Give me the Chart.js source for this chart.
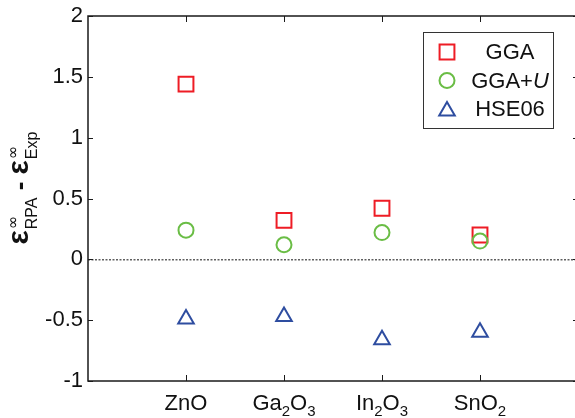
<!DOCTYPE html>
<html>
<head>
<meta charset="utf-8">
<script src="https://cdn.jsdelivr.net/npm/chart.js@4/dist/chart.umd.min.js"></script>
<style>
  html, body { margin: 0; padding: 0; background: #fff; overflow: hidden; width: 575px; height: 418px; }
  #wrap { position: absolute; left: 0; top: 0; width: 580px; height: 418px; }
  canvas { display: block; width: 580px; height: 418px; }
</style>
</head>
<body>
<div id="wrap"><canvas id="c" width="580" height="418" style="width:580px;height:418px"></canvas></div>
<script>
// ---- data ----
const categories = ['ZnO', 'Ga2O3', 'In2O3', 'SnO2'];
const seriesNames = ['GGA', 'GGA+U', 'HSE06'];
const ggaValues = [1.44, 0.32, 0.42, 0.20];
const ggaUValues = [0.24, 0.12, 0.22, 0.15];
const hseValues = [-0.49, -0.47, -0.66, -0.60];
const yTickValues = [-1, -0.5, 0, 0.5, 1, 1.5, 2];

const FONT = '"Liberation Sans", Arial, Helvetica, sans-serif';
const colors = ['#ee1c25', '#6abd45', '#2e4da0'];
const styles = ['rect', 'circle', 'triangle'];
const radii = [10.5, 7.5, 9];

function toPoints(vals) { return vals.map((v, i) => ({ x: i + 1, y: v })); }
const allValues = [ggaValues, ggaUValues, hseValues];

const datasets = seriesNames.map((name, k) => ({
  label: name,
  data: toPoints(allValues[k]),
  pointStyle: styles[k],
  pointRadius: radii[k],
  pointHoverRadius: radii[k],
  borderColor: colors[k],
  backgroundColor: 'rgba(0,0,0,0)',
  pointBorderWidth: 2,
  borderWidth: 2,
  showLine: false,
  order: 2 - k
}));

function drawSubText(ctx, text, x, y, size, align) {
  const parts = [];
  for (const ch of text) {
    const sub = /[0-9]/.test(ch);
    if (parts.length && parts[parts.length - 1].sub === sub) parts[parts.length - 1].t += ch;
    else parts.push({ t: ch, sub });
  }
  const subSize = Math.round(size * 0.7);
  let w = 0;
  parts.forEach(p => {
    ctx.font = (p.sub ? subSize : size) + 'px ' + FONT;
    p.w = ctx.measureText(p.t).width;
    w += p.w;
  });
  let cx = align === 'center' ? x - w / 2 : x;
  ctx.textAlign = 'left';
  ctx.textBaseline = 'alphabetic';
  parts.forEach(p => {
    ctx.font = (p.sub ? subSize : size) + 'px ' + FONT;
    ctx.fillText(p.t, cx, p.sub ? y + 6 : y);
    cx += p.w;
  });
}

function drawMarker(ctx, style, r, x, y, color) {
  ctx.save();
  ctx.strokeStyle = color;
  ctx.lineWidth = 2;
  ctx.beginPath();
  if (style === 'rect') {
    const s = Math.SQRT1_2 * r;
    ctx.rect(x - s, y - s, 2 * s, 2 * s);
  } else if (style === 'circle') {
    ctx.arc(x, y, r, 0, Math.PI * 2);
  } else {
    let rad = 0;
    ctx.moveTo(x + Math.sin(rad) * r, y - Math.cos(rad) * r);
    rad += 2 * Math.PI / 3;
    ctx.lineTo(x + Math.sin(rad) * r, y - Math.cos(rad) * r);
    rad += 2 * Math.PI / 3;
    ctx.lineTo(x + Math.sin(rad) * r, y - Math.cos(rad) * r);
    ctx.closePath();
  }
  ctx.stroke();
  ctx.restore();
}

const framePlugin = {
  id: 'frame',
  beforeDatasetsDraw(chart) {
    const { ctx, chartArea: a, scales } = chart;
    const xs = scales.x, ys = scales.y;
    ctx.save();
    const y0 = ys.getPixelForValue(0);
    ctx.strokeStyle = '#111';
    ctx.lineWidth = 1;
    ctx.setLineDash([2, 1.5]);
    ctx.beginPath();
    ctx.moveTo(a.left, y0 + 0.5);
    ctx.lineTo(a.right, y0 + 0.5);
    ctx.stroke();
    ctx.setLineDash([]);
    ctx.strokeStyle = '#1a1a1a';
    ctx.lineWidth = 1.5;
    ctx.strokeRect(a.left, a.top, a.right - a.left, a.bottom - a.top);
    ctx.lineWidth = 1;
    ctx.beginPath();
    yTickValues.forEach(v => {
      const py = Math.round(ys.getPixelForValue(v)) + 0.5;
      ctx.moveTo(a.left, py); ctx.lineTo(a.left + 5, py);
      ctx.moveTo(a.right, py); ctx.lineTo(a.right - 5, py);
    });
    categories.forEach((c, i) => {
      const px = Math.round(xs.getPixelForValue(i + 1)) + 0.5;
      ctx.moveTo(px, a.top); ctx.lineTo(px, a.top + 6);
      ctx.moveTo(px, a.bottom); ctx.lineTo(px, a.bottom - 6);
    });
    ctx.stroke();
    ctx.restore();
  },
  afterDraw(chart) {
    const { ctx, chartArea: a, scales } = chart;
    const xs = scales.x;
    ctx.save();
    ctx.fillStyle = '#111';
    categories.forEach((c, i) => {
      drawSubText(ctx, c, xs.getPixelForValue(i + 1), a.bottom + 29, 22, 'center');
    });
    // legend
    const lx = 423, ly = 32, lw = 130, lh = 96;
    ctx.strokeStyle = '#333';
    ctx.lineWidth = 1;
    ctx.strokeRect(lx + 0.5, ly + 0.5, lw, lh);
    seriesNames.forEach((n, k) => {
      const ry = ly + 20 + k * 28.5;
      drawMarker(ctx, styles[k], radii[k], 447, styles[k] === 'triangle' ? ry + 2 : ry, colors[k]);
      const plus = n.indexOf('+');
      const segs = plus >= 0 ? [{ t: n.slice(0, plus + 1), it: false }, { t: n.slice(plus + 1), it: true }] : [{ t: n, it: false }];
      let w = 0;
      segs.forEach(s => { ctx.font = (s.it ? 'italic ' : '') + '22px ' + FONT; s.w = ctx.measureText(s.t).width; w += s.w; });
      let tx = 510 - w / 2;
      ctx.textAlign = 'left';
      ctx.textBaseline = 'middle';
      ctx.fillStyle = '#111';
      segs.forEach(s => { ctx.font = (s.it ? 'italic ' : '') + '22px ' + FONT; ctx.fillText(s.t, tx, ry + 1); tx += s.w; });
    });
    // y-axis title
    ctx.translate(28, 188);
    ctx.rotate(-Math.PI / 2);
    const bigF = 'bold 30px ' + FONT;
    const dashF = 'bold 26px ' + FONT;
    const smallF = '16px ' + FONT;
    const supF = '16px "DejaVu Sans", ' + FONT;
    const pieces = [
      { type: 'main', t: '\u03b5', f: bigF },
      { type: 'ss', sup: '\u221e', sub: 'RPA' },
      { type: 'main', t: ' - ', f: dashF },
      { type: 'main', t: '\u03b5', f: bigF },
      { type: 'ss', sup: '\u221e', sub: 'Exp' }
    ];
    let total = 0;
    pieces.forEach(p => {
      if (p.type === 'main') { ctx.font = p.f; p.w = ctx.measureText(p.t).width; }
      else {
        ctx.font = supF; const w1 = ctx.measureText(p.sup).width;
        ctx.font = smallF; const w2 = ctx.measureText(p.sub).width;
        p.w = Math.max(w1, w2) + 1;
      }
      total += p.w;
    });
    let x = -total / 2;
    ctx.textAlign = 'left';
    ctx.textBaseline = 'alphabetic';
    pieces.forEach(p => {
      if (p.type === 'main') { ctx.font = p.f; ctx.fillText(p.t, x, 0); }
      else {
        ctx.font = supF; ctx.fillText(p.sup, x + 1, -10);
        ctx.font = smallF; ctx.fillText(p.sub, x + 1, 9);
      }
      x += p.w;
    });
    ctx.restore();
  }
};

new Chart(document.getElementById('c'), {
  type: 'scatter',
  data: { datasets },
  options: {
    responsive: false,
    animation: false,
    events: [],
    layout: { autoPadding: false, padding: { top: 16, right: 2, left: 0, bottom: 0 } },
    plugins: { legend: { display: false }, tooltip: { enabled: false } },
    scales: {
      x: {
        type: 'linear', min: 0, max: categories.length + 1,
        ticks: { display: false },
        grid: { display: false, drawTicks: false },
        border: { display: false },
        afterFit(s) { s.height = 37; s.paddingLeft = 0; s.paddingRight = 0; }
      },
      y: {
        type: 'linear', min: -1, max: 2,
        afterBuildTicks(s) { s.ticks = yTickValues.map(v => ({ value: v })); },
        ticks: {
          padding: 5,
          color: '#111',
          font: { family: FONT, size: 22 },
          callback: v => String(v)
        },
        grid: { display: false, drawTicks: false },
        border: { display: false },
        afterFit(s) { s.width = 88; s.paddingTop = 0; s.paddingBottom = 0; }
      }
    }
  },
  plugins: [framePlugin]
});
</script>
</body>
</html>
